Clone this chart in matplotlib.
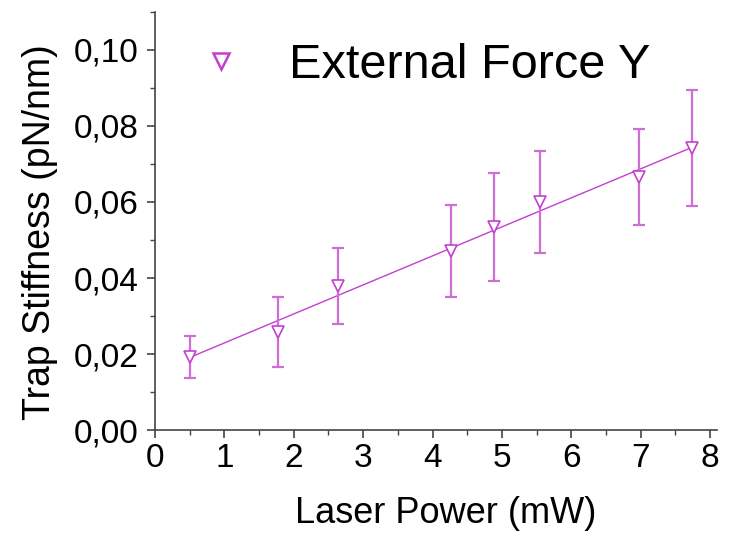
import numpy as np
import matplotlib
matplotlib.use("Agg")
import matplotlib.pyplot as plt
from matplotlib.ticker import FuncFormatter, MultipleLocator
from matplotlib.lines import Line2D

plt.rcParams['font.family'] = ['Liberation Sans', 'DejaVu Sans']

# Laser power (mW) and measured trap stiffness (pN/nm) with errors
power = [0.50, 1.77, 2.64, 4.27, 4.89, 5.55, 6.97, 7.74]
stiffness = [0.0193, 0.0258, 0.0379, 0.0472, 0.0535, 0.0600, 0.0665, 0.0741]
stiffness_err = [0.0055, 0.0093, 0.0099, 0.0121, 0.0142, 0.0135, 0.0126, 0.0152]

series_label = "External Force Y"
xlabel = "Laser Power (mW)"
ylabel = "Trap Stiffness (pN/nm)"

marker_color = "#c43fd0"
err_color = "#cf6fd6"

fig = plt.figure(figsize=(7.34, 5.35), dpi=100)
ax = fig.add_axes([0.211, 0.196, 0.766, 0.782])

x = np.array(power)
y = np.array(stiffness)

# linear fit across the measured range
slope, intercept = np.polyfit(x, y, 1)
xf = np.array([x.min(), x.max()])
ax.plot(xf, slope * xf + intercept, color=marker_color, lw=1.0, zorder=2)

ax.errorbar(x, y, yerr=stiffness_err, fmt='none', ecolor=err_color,
            elinewidth=1.6, capsize=4, capthick=1.6, zorder=3)
ax.plot(x, y, linestyle='none', marker='v', markersize=9, markerfacecolor='white',
        markeredgecolor=marker_color, markeredgewidth=1.2, zorder=4)

ax.set_xlim(0, 8.1)
ax.set_ylim(0, 0.11)
ax.xaxis.set_major_locator(MultipleLocator(1))
ax.xaxis.set_minor_locator(MultipleLocator(0.5))
ax.yaxis.set_major_locator(MultipleLocator(0.02))
ax.yaxis.set_minor_locator(MultipleLocator(0.01))
ax.yaxis.set_major_formatter(FuncFormatter(lambda v, p: f"{v:.2f}".replace('.', ',')))
ax.xaxis.set_major_formatter(FuncFormatter(lambda v, p: f"{v:.0f}"))

for s in ['top', 'right']:
    ax.spines[s].set_visible(False)
for s in ['left', 'bottom']:
    ax.spines[s].set_color('#444444')
    ax.spines[s].set_linewidth(1.2)

ax.tick_params(which='major', direction='out', length=6, width=1.2, color='#444444',
               labelsize=24)
ax.tick_params(axis='y', which='major', pad=6)
ax.tick_params(axis='x', which='major', pad=3)
ax.tick_params(which='minor', direction='out', length=3.5, width=1.0, color='#444444')

ax.set_xlabel(xlabel, fontsize=26)
ax.set_ylabel(ylabel, fontsize=27)
ax.xaxis.set_label_coords(0.518, -0.158)
ax.yaxis.set_label_coords(-0.172, 0.474)

handle = Line2D([], [], linestyle='none', marker='v', markersize=12,
                markerfacecolor='white', markeredgecolor=marker_color, markeredgewidth=1.8)
ax.legend([handle], [series_label], loc='upper left', bbox_to_anchor=(0.031, 0.983),
          frameon=False, fontsize=35, borderpad=0, handletextpad=0.9, handlelength=1.0)

fig.savefig("out.png", dpi=100)
